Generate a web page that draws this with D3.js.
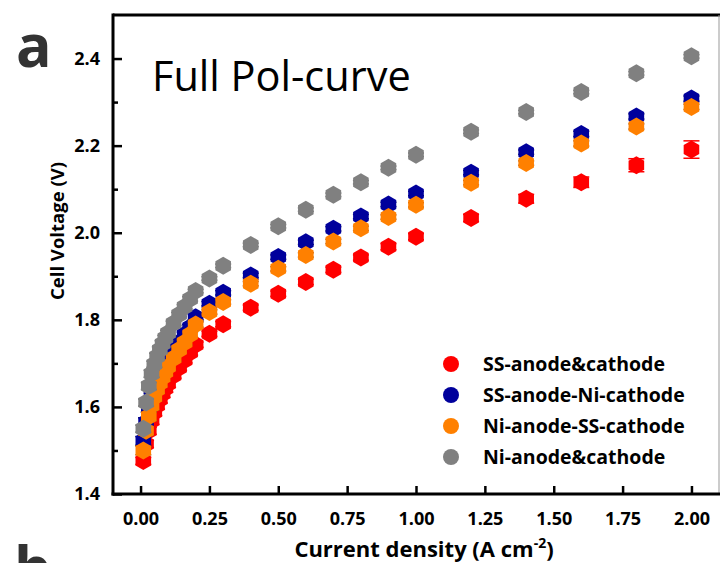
<!DOCTYPE html>
<html>
<head>
<meta charset="utf-8">
<script src="https://cdn.jsdelivr.net/npm/d3@7"></script>
<style>
  html, body { margin: 0; padding: 0; background: #fff; }
  svg { display: block; }
</style>
</head>
<body>
<svg id="chart" width="720" height="563"></svg>
<script>
// Current densities (A cm-2) at which the cell voltage was recorded
const currentDensity = [0.01, 0.02, 0.03, 0.04, 0.05, 0.06, 0.07, 0.08, 0.09, 0.10,
  0.12, 0.14, 0.16, 0.18, 0.20, 0.25, 0.30, 0.40, 0.50, 0.60, 0.70, 0.80, 0.90, 1.00,
  1.20, 1.40, 1.60, 1.80, 2.00];

// Cell voltage (V) for each electrode pairing
const ssBoth = [1.476, 1.515, 1.545, 1.568, 1.588, 1.603, 1.617, 1.630, 1.642, 1.653,
  1.672, 1.690, 1.707, 1.725, 1.743, 1.768, 1.790, 1.828, 1.860, 1.887, 1.915, 1.943, 1.968, 1.991,
  2.034, 2.078, 2.116, 2.155, 2.191];
const ssAnodeNiCathode = [1.522, 1.565, 1.598, 1.622, 1.641, 1.658, 1.673, 1.686, 1.698, 1.710,
  1.730, 1.748, 1.766, 1.783, 1.806, 1.837, 1.862, 1.902, 1.944, 1.978, 2.009, 2.037, 2.065, 2.090,
  2.138, 2.185, 2.227, 2.267, 2.308];
const niAnodeSsCathode = [1.500, 1.545, 1.578, 1.603, 1.623, 1.640, 1.655, 1.668, 1.680, 1.692,
  1.712, 1.731, 1.748, 1.766, 1.789, 1.818, 1.841, 1.883, 1.917, 1.949, 1.980, 2.010, 2.036, 2.064,
  2.115, 2.160, 2.205, 2.244, 2.289];
const niBoth = [1.550, 1.610, 1.648, 1.676, 1.698, 1.716, 1.731, 1.745, 1.758, 1.770,
  1.792, 1.812, 1.830, 1.848, 1.866, 1.895, 1.924, 1.972, 2.015, 2.053, 2.087, 2.116, 2.149, 2.179,
  2.232, 2.277, 2.323, 2.366, 2.405];

// Standard deviation (V) of the repeated measurements
const ssBothErr = [0.008, 0.008, 0.008, 0.008, 0.008, 0.008, 0.008, 0.008, 0.008, 0.008,
  0.006, 0.006, 0.006, 0.006, 0.006, 0.006, 0.006, 0.006, 0.006, 0.006, 0.006, 0.006, 0.007, 0.007,
  0.008, 0.010, 0.012, 0.015, 0.020];
const ssAnodeNiCathodeErr = [0.010, 0.010, 0.010, 0.010, 0.009, 0.009, 0.009, 0.009, 0.008, 0.008,
  0.007, 0.007, 0.006, 0.006, 0.006, 0.005, 0.005, 0.005, 0.005, 0.005, 0.005, 0.005, 0.005, 0.005,
  0.005, 0.005, 0.006, 0.006, 0.006];
const niAnodeSsCathodeErr = [0.010, 0.010, 0.010, 0.010, 0.009, 0.009, 0.009, 0.009, 0.008, 0.008,
  0.007, 0.007, 0.006, 0.006, 0.006, 0.005, 0.005, 0.005, 0.005, 0.005, 0.005, 0.005, 0.005, 0.005,
  0.005, 0.005, 0.006, 0.006, 0.006];
const niBothErr = [0.008, 0.008, 0.008, 0.008, 0.007, 0.007, 0.007, 0.007, 0.006, 0.006,
  0.005, 0.005, 0.005, 0.005, 0.004, 0.004, 0.004, 0.004, 0.004, 0.004, 0.004, 0.004, 0.004, 0.004,
  0.004, 0.004, 0.004, 0.004, 0.004];

const seriesNames = ["SS-anode&cathode", "SS-anode-Ni-cathode", "Ni-anode-SS-cathode", "Ni-anode&cathode"];
const seriesColors = ["#ff0000", "#00009c", "#ff8000", "#808080"];
const errColors = ["#ff0000", "#000060", "#a05010", "#707070"];

const xTicks = [0, 0.25, 0.5, 0.75, 1.0, 1.25, 1.5, 1.75, 2.0];
const yTicks = [1.4, 1.6, 1.8, 2.0, 2.2, 2.4];
const yMinorTicks = [1.5, 1.7, 1.9, 2.1, 2.3];

const seriesValues = [ssBoth, ssAnodeNiCathode, niAnodeSsCathode, niBoth];
const seriesErrors = [ssBothErr, ssAnodeNiCathodeErr, niAnodeSsCathodeErr, niBothErr];

const svg = d3.select("#chart");
const font = "'Open Sans', sans-serif";

const plot = { left: 113, right: 719, top: 15, bottom: 494 };
const x = d3.scaleLinear().domain([-0.1, 2.1]).range([plot.left, plot.right]);
const y = d3.scaleLinear().domain([1.4, 2.5]).range([plot.bottom, plot.top]);

// Panel letters
svg.append("text").attr("x", 16).attr("y", 67)
  .attr("font-family", font).attr("font-weight", 700).attr("font-size", 59)
  .attr("fill", "#333").text("a");
svg.append("text").attr("x", 14).attr("y", 589)
  .attr("font-family", font).attr("font-weight", 700).attr("font-size", 59)
  .attr("fill", "#333").text("b");

// Data: error bars under hexagonal markers
const hexR = 9;
const hexagon = d3.range(6).map(i => {
  const a = Math.PI / 3 * i - Math.PI / 2;
  return [hexR * Math.cos(a), hexR * Math.sin(a)];
});
const capHalf = 8;

seriesValues.forEach((vals, si) => {
  const pts = currentDensity.map((j, i) => ({ j, v: vals[i], e: seriesErrors[si][i] }));
  const g = svg.append("g");
  const eb = g.append("g").attr("stroke", errColors[si]).attr("stroke-width", 1.5);
  pts.forEach(p => {
    const cx = x(p.j), y1 = y(p.v + p.e), y2 = y(p.v - p.e);
    eb.append("line").attr("x1", cx).attr("x2", cx).attr("y1", y1).attr("y2", y2);
    eb.append("line").attr("x1", cx - capHalf).attr("x2", cx + capHalf).attr("y1", y1).attr("y2", y1);
    eb.append("line").attr("x1", cx - capHalf).attr("x2", cx + capHalf).attr("y1", y2).attr("y2", y2);
  });
  g.selectAll("path.m").data(pts).join("path")
    .attr("class", "m")
    .attr("d", "M" + hexagon.map(p => p.join(",")).join("L") + "Z")
    .attr("transform", p => `translate(${x(p.j)},${y(p.v)})`)
    .attr("fill", seriesColors[si]);
});

// Axes frame
const axisG = svg.append("g");
axisG.append("line").attr("x1", plot.left).attr("x2", plot.right + 1)
  .attr("y1", plot.top).attr("y2", plot.top).attr("stroke", "#000").attr("stroke-width", 3);
axisG.append("line").attr("x1", plot.right).attr("x2", plot.right)
  .attr("y1", plot.top).attr("y2", plot.bottom).attr("stroke", "#999").attr("stroke-width", 1);

const xAxis = d3.axisBottom(x).tickValues(xTicks).tickFormat(d3.format(".2f"))
  .tickSizeInner(-8).tickSizeOuter(0).tickPadding(18);
const gx = svg.append("g").attr("transform", `translate(0,${plot.bottom})`).call(xAxis);
gx.select(".domain").attr("stroke-width", 3).attr("d", `M${plot.left - 1.5},0H${plot.right + 1}`);
gx.selectAll(".tick line").attr("stroke-width", 2.5);
gx.selectAll(".tick text").attr("font-family", font).attr("font-weight", 700)
  .attr("font-size", 18).attr("fill", "#000");

const yAxis = d3.axisLeft(y).tickValues(yTicks).tickFormat(d3.format(".1f"))
  .tickSizeInner(-9).tickSizeOuter(0).tickPadding(13);
const gy = svg.append("g").attr("transform", `translate(${plot.left},0)`).call(yAxis);
gy.select(".domain").attr("stroke-width", 3).attr("d", `M0,${plot.bottom + 1.5}V${plot.top - 1.5}`);
gy.selectAll(".tick line").attr("stroke-width", 2.5);
gy.selectAll(".tick text").attr("font-family", font).attr("font-weight", 700)
  .attr("font-size", 18).attr("fill", "#000");
const gyMinor = svg.append("g").attr("transform", `translate(${plot.left},0)`)
  .call(d3.axisLeft(y).tickValues(yMinorTicks).tickFormat("").tickSizeInner(-5).tickSizeOuter(0));
gyMinor.select(".domain").remove();
gyMinor.selectAll(".tick line").attr("stroke-width", 2.5);

// Axis titles
svg.append("text")
  .attr("transform", "translate(64,231) rotate(-90)")
  .attr("text-anchor", "middle")
  .attr("font-family", font).attr("font-weight", 700).attr("font-size", 18.5)
  .text("Cell Voltage (V)");
const xt = svg.append("text")
  .attr("x", 424).attr("y", 557)
  .attr("text-anchor", "middle")
  .attr("font-family", font).attr("font-weight", 700).attr("font-size", 22);
xt.append("tspan").text("Current density (A cm");
xt.append("tspan").attr("dy", -9).attr("font-size", 14).text("-2");
xt.append("tspan").attr("dy", 9).text(")");

// In-plot heading
svg.append("text").attr("x", 152).attr("y", 91)
  .attr("font-family", font).attr("font-size", 41.5).attr("fill", "#000")
  .text("Full Pol-curve");

// Legend
const legend = svg.append("g");
seriesNames.forEach((name, i) => {
  const ly = 364 + i * 31;
  legend.append("circle").attr("cx", 451).attr("cy", ly).attr("r", 8).attr("fill", seriesColors[i]);
  legend.append("text").attr("x", 483).attr("y", ly + 7)
    .attr("font-family", font).attr("font-weight", 700).attr("font-size", 19.5)
    .text(name);
});
</script>
</body>
</html>
